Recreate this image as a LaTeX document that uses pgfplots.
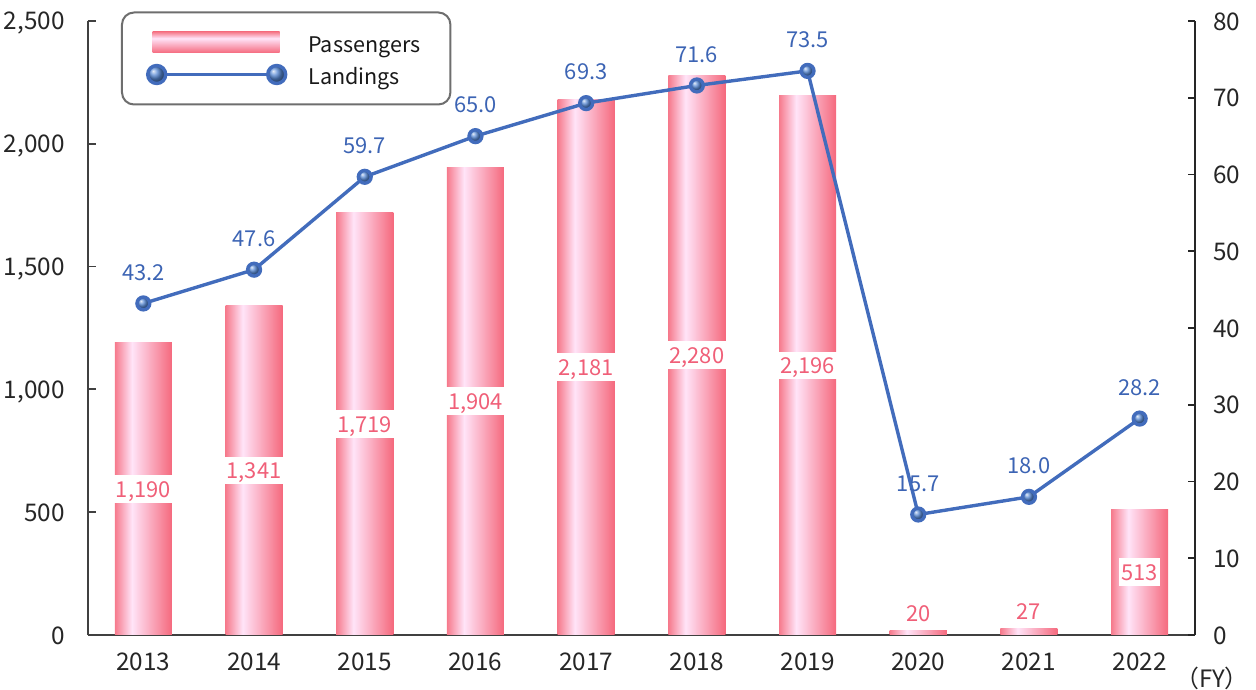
\documentclass[border=0pt]{standalone}
\usepackage{fontspec}
\setmainfont{Noto Sans CJK JP}
\usepackage{pgfplots}
\usepackage{pgfplotstable}
\pgfplotsset{compat=1.18}
\definecolor{barR}{RGB}{245,105,125}
\definecolor{barL}{RGB}{246,122,140}
\definecolor{barW}{RGB}{255,228,248}
\definecolor{barlabel}{RGB}{240,95,120}
\definecolor{lineblue}{RGB}{66,108,188}
\definecolor{labelblue}{RGB}{60,100,180}
\definecolor{markblue}{RGB}{85,135,210}
\definecolor{axisgray}{RGB}{64,64,64}
\definecolor{legendgray}{RGB}{110,110,110}
\pgfdeclarehorizontalshading{barshade}{100bp}{color(0bp)=(barL); color(25bp)=(barL); color(40bp)=(barW); color(75bp)=(barR); color(100bp)=(barR)}
\pgfkeys{/pgf/number format/assume math mode=true}
\pgfplotstableread{
x pass land
0 1190 43.2
1 1341 47.6
2 1719 59.7
3 1904 65.0
4 2181 69.3
5 2280 71.6
6 2196 73.5
7 20 15.7
8 27 18.0
9 513 28.2
}\data
\begin{document}
\begin{tikzpicture}
\useasboundingbox (-44bp,-27.5bp) rectangle (584bp,317.5bp);
\begin{axis}[
  at={(0,0)}, anchor=south west,
  scale only axis, width=553.5bp, height=307bp,
  xmin=-0.5, xmax=9.5, ymin=0, ymax=2500,
  axis x line*=bottom, axis y line*=left,
  axis line style={draw=axisgray, line width=0.9bp, -},
  xtick={0,1,2,3,4,5,6,7,8,9},
  xticklabels={2013,2014,2015,2016,2017,2018,2019,2020,2021,2022},
  major x tick style={draw=none},
  ytick={0,500,1000,1500,2000,2500},
  tick align=inside, major tick length=4bp,
  y tick style={draw=axisgray, line width=0.9bp},
  yticklabel style={font=\fontsize{12.2}{15}\selectfont, text=black!85, inner sep=0pt, text height=9bp, text depth=0pt, anchor=east, xshift=-11.5bp, /pgf/number format/1000 sep={,}},
  xticklabel style={font=\fontsize{12.2}{15}\selectfont, text=black!85, inner sep=0pt, text height=9bp, text depth=0pt, anchor=north, yshift=-8.7bp},
  clip=false,
]
\pgfplotsinvokeforeach{0,...,9}{
\addplot[ybar, bar width=0.515, bar shift=0pt, draw=none, shading=barshade, restrict x to domain=#1:#1] table[x=x, y=pass] {\data};
}
\addplot[draw=none, mark=none, restrict x to domain=0:6, point meta=explicit,
  nodes near coords={\pgfmathprintnumber[1000 sep={,}]{\pgfplotspointmeta}},
  every node near coord/.append style={font=\fontsize{11}{13}\selectfont, text=barlabel, fill=white, inner xsep=1bp, inner ysep=2.75bp, text height=8.3bp, text depth=0pt, anchor=center}]
  table[x=x, y expr=\thisrow{pass}/2, meta=pass] {\data};
\addplot[draw=none, mark=none, restrict x to domain=9:9, point meta=explicit,
  nodes near coords={\pgfmathprintnumber[1000 sep={,}]{\pgfplotspointmeta}},
  every node near coord/.append style={font=\fontsize{11}{13}\selectfont, text=barlabel, fill=white, inner xsep=1bp, inner ysep=2.75bp, text height=8.3bp, text depth=0pt, anchor=center}]
  table[x=x, y expr=\thisrow{pass}/2, meta=pass] {\data};
\addplot[draw=none, mark=none, restrict x to domain=7:8, point meta=explicit,
  nodes near coords={\pgfmathprintnumber[1000 sep={,}]{\pgfplotspointmeta}},
  every node near coord/.append style={font=\fontsize{11}{13}\selectfont, text=barlabel, inner xsep=1bp, inner ysep=0pt, text height=8.3bp, text depth=0pt, anchor=south, yshift=4bp}]
  table[x=x, y=pass, meta=pass] {\data};
\node[font=\fontsize{12}{15}\selectfont, text=black!85, inner sep=0pt] at (rel axis cs:1.0154,-0.07) {（FY）};
\end{axis}
\begin{axis}[
  at={(0,0)}, anchor=south west,
  scale only axis, width=553.5bp, height=307bp,
  xmin=-0.5, xmax=9.5, ymin=0, ymax=80,
  axis x line=none, axis y line*=right,
  axis line style={draw=black!85, line width=0.8bp, -},
  ytick={0,10,20,30,40,50,60,70,80},
  tick align=inside, major tick length=3.5bp,
  y tick style={draw=black!85, line width=0.8bp},
  yticklabel style={font=\fontsize{12.2}{15}\selectfont, text=black!85, inner sep=0pt, text height=9bp, text depth=0pt, anchor=west, xshift=9bp},
  clip=false,
  legend style={at={(0.0298,1.0155)}, anchor=north west, draw=legendgray, line width=1bp, rounded corners=6bp, fill=white,
    inner xsep=12bp, inner ysep=9bp, column sep=10.5bp, row sep=4bp,
    nodes={inner xsep=0pt, inner ysep=0pt, text height=11bp, text depth=1bp, text width=59bp, font=\fontsize{10.8}{13}\selectfont, text=black!90}},
  legend cell align=left,
]
\addlegendimage{legend image code/.code={\path[draw=none, sharp corners, shading=barshade, shading angle=270] (2.5bp,-5.25bp) rectangle (66bp,5.25bp);}}
\addlegendentry{Passengers}
\addplot[lineblue, line width=1.7bp, mark=ball, mark size=3.2bp, mark options={ball color=markblue},
  point meta=explicit,
  nodes near coords={\pgfmathprintnumber[fixed, fixed zerofill, precision=1]{\pgfplotspointmeta}},
  every node near coord/.append style={font=\fontsize{11}{13}\selectfont, text=labelblue, inner sep=0pt, text height=8.3bp, text depth=0pt, anchor=center, yshift=15.75bp},
  legend image code/.code={\draw[sharp corners, lineblue, line width=1.5bp] (4.5bp,0bp) -- (64.5bp,0bp); \shade[ball color=markblue] (4.5bp,0bp) circle (4.5bp); \shade[ball color=markblue] (64.5bp,0bp) circle (4.5bp);}]
  table[x=x, y=land, meta=land] {\data};
\addlegendentry{Landings}
\end{axis}
\end{tikzpicture}
\end{document}
